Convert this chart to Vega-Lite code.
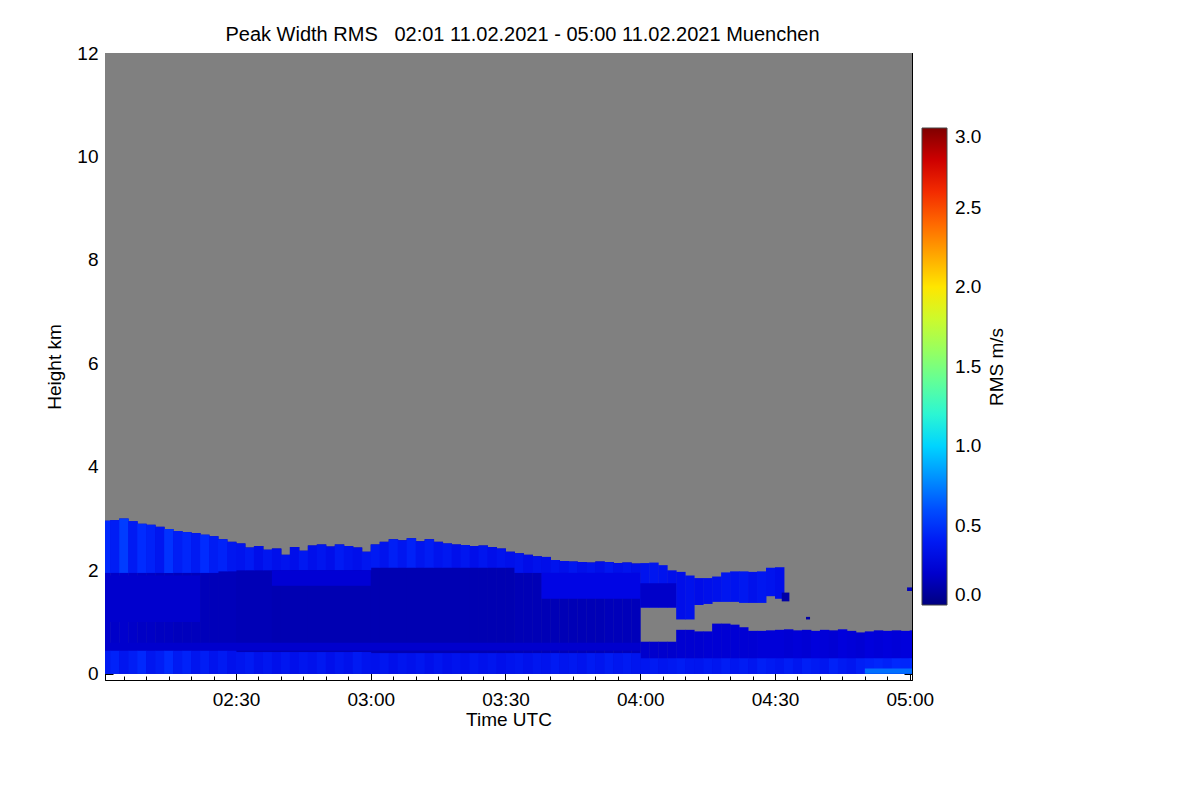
{
  "$schema": "https://vega.github.io/schema/vega-lite/v6.json",
  "description": "Peak Width RMS time-height section, Muenchen 11.02.2021",
  "width": 807,
  "height": 627,
  "autosize": {"type": "none"},
  "padding": {"left": 105, "top": 53, "right": 288, "bottom": 120},
  "background": "white",
  "title": {
    "text": "Peak Width RMS\u00a0\u00a0\u00a002:01 11.02.2021 - 05:00 11.02.2021 Muenchen",
    "fontSize": 20,
    "fontWeight": "normal",
    "font": "Liberation Sans",
    "color": "black",
    "anchor": "middle",
    "dx": 14,
    "dy": 11,
    "offset": 10
  },
  "config": {
    "font": "Liberation Sans",
    "view": {"stroke": "black", "strokeWidth": 1},
    "axis": {
      "grid": false,
      "domainColor": "black",
      "tickColor": "black",
      "labelColor": "black",
      "titleColor": "black",
      "labelFontSize": 19,
      "titleFontSize": 19,
      "titleFontWeight": "normal",
      "labelFlush": false,
      "labelOverlap": false
    },
    "legend": {
      "labelFontSize": 19,
      "titleFontSize": 19,
      "titleFontWeight": "normal",
      "labelColor": "black",
      "titleColor": "black"
    }
  },
  "datasets": {
    "frame": [{"t0": 0.84, "t1": 180.5, "h0": 0, "h1": 12}],
    "cols": [
      {"t0": 0, "t1": 2.1, "top": 2.96, "cap": 1.95, "lo": 2.96, "bt": 0.45, "vt": 0.48, "vm": 0.2, "vb": 0.4},
      {"t0": 2, "t1": 4.1, "top": 2.97, "cap": 1.95, "lo": 2.97, "bt": 0.45, "vt": 0.42, "vm": 0.19, "vb": 0.45},
      {"t0": 4, "t1": 6.1, "top": 3.0, "cap": 1.95, "lo": 3.0, "bt": 0.45, "vt": 0.55, "vm": 0.2, "vb": 0.37},
      {"t0": 6, "t1": 8.1, "top": 2.95, "cap": 1.95, "lo": 2.95, "bt": 0.45, "vt": 0.4, "vm": 0.19, "vb": 0.42},
      {"t0": 8, "t1": 10.1, "top": 2.9, "cap": 1.95, "lo": 2.9, "bt": 0.45, "vt": 0.5, "vm": 0.18, "vb": 0.48},
      {"t0": 10, "t1": 12.1, "top": 2.88, "cap": 1.95, "lo": 2.88, "bt": 0.45, "vt": 0.44, "vm": 0.18, "vb": 0.38},
      {"t0": 12, "t1": 14.1, "top": 2.84, "cap": 1.95, "lo": 2.84, "bt": 0.45, "vt": 0.38, "vm": 0.17, "vb": 0.42},
      {"t0": 14, "t1": 16.1, "top": 2.8, "cap": 1.95, "lo": 2.8, "bt": 0.45, "vt": 0.52, "vm": 0.17, "vb": 0.5},
      {"t0": 16, "t1": 18.1, "top": 2.76, "cap": 1.95, "lo": 2.76, "bt": 0.45, "vt": 0.42, "vm": 0.16, "vb": 0.4},
      {"t0": 18, "t1": 20.1, "top": 2.74, "cap": 1.95, "lo": 2.74, "bt": 0.45, "vt": 0.47, "vm": 0.16, "vb": 0.45},
      {"t0": 20, "t1": 22.1, "top": 2.72, "cap": 1.95, "lo": 2.72, "bt": 0.45, "vt": 0.4, "vm": 0.16, "vb": 0.37},
      {"t0": 22, "t1": 24.1, "top": 2.69, "cap": 1.95, "lo": 2.69, "bt": 0.45, "vt": 0.5, "vm": 0.15, "vb": 0.42},
      {"t0": 24, "t1": 26.1, "top": 2.66, "cap": 1.95, "lo": 2.66, "bt": 0.45, "vt": 0.41, "vm": 0.15, "vb": 0.36},
      {"t0": 26, "t1": 28.1, "top": 2.6, "cap": 1.98, "lo": 2.6, "bt": 0.45, "vt": 0.45, "vm": 0.15, "vb": 0.4},
      {"t0": 28, "t1": 30.1, "top": 2.55, "cap": 1.98, "lo": 2.55, "bt": 0.45, "vt": 0.38, "vm": 0.15, "vb": 0.35},
      {"t0": 30, "t1": 32.1, "top": 2.52, "cap": 2.0, "lo": 2.52, "bt": 0.42, "vt": 0.36, "vm": 0.14, "vb": 0.37},
      {"t0": 32, "t1": 34.1, "top": 2.44, "cap": 2.0, "lo": 2.44, "bt": 0.42, "vt": 0.4, "vm": 0.14, "vb": 0.4},
      {"t0": 34, "t1": 36.1, "top": 2.47, "cap": 2.0, "lo": 2.47, "bt": 0.42, "vt": 0.33, "vm": 0.14, "vb": 0.35},
      {"t0": 36, "t1": 38.1, "top": 2.4, "cap": 2.0, "lo": 2.4, "bt": 0.42, "vt": 0.38, "vm": 0.14, "vb": 0.38},
      {"t0": 38, "t1": 40.1, "top": 2.42, "cap": 2.0, "lo": 2.42, "bt": 0.42, "vt": 0.34, "vm": 0.13, "vb": 0.34},
      {"t0": 40, "t1": 42.1, "top": 2.3, "cap": 2.0, "lo": 2.3, "bt": 0.42, "vt": 0.36, "vm": 0.13, "vb": 0.38},
      {"t0": 42, "t1": 44.1, "top": 2.45, "cap": 2.0, "lo": 2.45, "bt": 0.42, "vt": 0.33, "vm": 0.13, "vb": 0.34},
      {"t0": 44, "t1": 46.1, "top": 2.38, "cap": 2.0, "lo": 2.38, "bt": 0.42, "vt": 0.39, "vm": 0.13, "vb": 0.37},
      {"t0": 46, "t1": 48.1, "top": 2.48, "cap": 2.0, "lo": 2.48, "bt": 0.42, "vt": 0.34, "vm": 0.13, "vb": 0.35},
      {"t0": 48, "t1": 50.1, "top": 2.5, "cap": 2.0, "lo": 2.5, "bt": 0.42, "vt": 0.37, "vm": 0.13, "vb": 0.39},
      {"t0": 50, "t1": 52.1, "top": 2.46, "cap": 2.0, "lo": 2.46, "bt": 0.42, "vt": 0.33, "vm": 0.13, "vb": 0.34},
      {"t0": 52, "t1": 54.1, "top": 2.5, "cap": 2.0, "lo": 2.5, "bt": 0.42, "vt": 0.4, "vm": 0.13, "vb": 0.38},
      {"t0": 54, "t1": 56.1, "top": 2.47, "cap": 2.0, "lo": 2.47, "bt": 0.42, "vt": 0.36, "vm": 0.13, "vb": 0.35},
      {"t0": 56, "t1": 58.1, "top": 2.44, "cap": 2.0, "lo": 2.44, "bt": 0.42, "vt": 0.34, "vm": 0.13, "vb": 0.4},
      {"t0": 58, "t1": 60.1, "top": 2.36, "cap": 2.0, "lo": 2.36, "bt": 0.42, "vt": 0.38, "vm": 0.13, "vb": 0.36},
      {"t0": 60, "t1": 62.1, "top": 2.5, "cap": 2.05, "lo": 2.5, "bt": 0.4, "vt": 0.4, "vm": 0.13, "vb": 0.35},
      {"t0": 62, "t1": 64.1, "top": 2.55, "cap": 2.05, "lo": 2.55, "bt": 0.4, "vt": 0.36, "vm": 0.13, "vb": 0.38},
      {"t0": 64, "t1": 66.1, "top": 2.6, "cap": 2.05, "lo": 2.6, "bt": 0.4, "vt": 0.43, "vm": 0.13, "vb": 0.34},
      {"t0": 66, "t1": 68.1, "top": 2.58, "cap": 2.05, "lo": 2.58, "bt": 0.4, "vt": 0.38, "vm": 0.13, "vb": 0.37},
      {"t0": 68, "t1": 70.1, "top": 2.62, "cap": 2.05, "lo": 2.62, "bt": 0.4, "vt": 0.44, "vm": 0.13, "vb": 0.35},
      {"t0": 70, "t1": 72.1, "top": 2.56, "cap": 2.05, "lo": 2.56, "bt": 0.4, "vt": 0.37, "vm": 0.13, "vb": 0.38},
      {"t0": 72, "t1": 74.1, "top": 2.6, "cap": 2.05, "lo": 2.6, "bt": 0.4, "vt": 0.41, "vm": 0.13, "vb": 0.34},
      {"t0": 74, "t1": 76.1, "top": 2.55, "cap": 2.05, "lo": 2.55, "bt": 0.4, "vt": 0.36, "vm": 0.13, "vb": 0.37},
      {"t0": 76, "t1": 78.1, "top": 2.52, "cap": 2.05, "lo": 2.52, "bt": 0.4, "vt": 0.39, "vm": 0.13, "vb": 0.34},
      {"t0": 78, "t1": 80.1, "top": 2.5, "cap": 2.05, "lo": 2.5, "bt": 0.4, "vt": 0.34, "vm": 0.13, "vb": 0.36},
      {"t0": 80, "t1": 82.1, "top": 2.49, "cap": 2.05, "lo": 2.49, "bt": 0.4, "vt": 0.38, "vm": 0.13, "vb": 0.34},
      {"t0": 82, "t1": 84.1, "top": 2.47, "cap": 2.05, "lo": 2.47, "bt": 0.4, "vt": 0.33, "vm": 0.13, "vb": 0.38},
      {"t0": 84, "t1": 86.1, "top": 2.48, "cap": 2.05, "lo": 2.48, "bt": 0.4, "vt": 0.37, "vm": 0.13, "vb": 0.35},
      {"t0": 86, "t1": 88.1, "top": 2.45, "cap": 2.05, "lo": 2.45, "bt": 0.4, "vt": 0.33, "vm": 0.13, "vb": 0.37},
      {"t0": 88, "t1": 90.1, "top": 2.42, "cap": 2.05, "lo": 2.42, "bt": 0.4, "vt": 0.36, "vm": 0.13, "vb": 0.34},
      {"t0": 90, "t1": 92.1, "top": 2.36, "cap": 2.05, "lo": 2.36, "bt": 0.4, "vt": 0.34, "vm": 0.13, "vb": 0.36},
      {"t0": 92, "t1": 94.1, "top": 2.33, "cap": 1.95, "lo": 2.33, "bt": 0.4, "vt": 0.36, "vm": 0.14, "vb": 0.38},
      {"t0": 94, "t1": 96.1, "top": 2.3, "cap": 1.95, "lo": 2.3, "bt": 0.4, "vt": 0.32, "vm": 0.14, "vb": 0.35},
      {"t0": 96, "t1": 98.1, "top": 2.27, "cap": 1.95, "lo": 2.27, "bt": 0.4, "vt": 0.35, "vm": 0.14, "vb": 0.38},
      {"t0": 98, "t1": 100.1, "top": 2.26, "cap": 1.95, "lo": 2.26, "bt": 0.4, "vt": 0.33, "vm": 0.14, "vb": 0.36},
      {"t0": 100, "t1": 102.1, "top": 2.2, "cap": 1.95, "lo": 2.2, "bt": 0.4, "vt": 0.36, "vm": 0.14, "vb": 0.4},
      {"t0": 102, "t1": 104.1, "top": 2.18, "cap": 1.95, "lo": 2.18, "bt": 0.4, "vt": 0.34, "vm": 0.14, "vb": 0.37},
      {"t0": 104, "t1": 106.1, "top": 2.17, "cap": 1.95, "lo": 2.17, "bt": 0.4, "vt": 0.38, "vm": 0.14, "vb": 0.39},
      {"t0": 106, "t1": 108.1, "top": 2.16, "cap": 1.95, "lo": 2.16, "bt": 0.4, "vt": 0.34, "vm": 0.14, "vb": 0.36},
      {"t0": 108, "t1": 110.1, "top": 2.15, "cap": 1.95, "lo": 2.15, "bt": 0.4, "vt": 0.36, "vm": 0.14, "vb": 0.4},
      {"t0": 110, "t1": 112.1, "top": 2.17, "cap": 1.95, "lo": 2.17, "bt": 0.4, "vt": 0.33, "vm": 0.14, "vb": 0.37},
      {"t0": 112, "t1": 114.1, "top": 2.16, "cap": 1.95, "lo": 2.16, "bt": 0.4, "vt": 0.38, "vm": 0.15, "vb": 0.41},
      {"t0": 114, "t1": 116.1, "top": 2.14, "cap": 1.95, "lo": 2.14, "bt": 0.4, "vt": 0.34, "vm": 0.15, "vb": 0.38},
      {"t0": 116, "t1": 118.1, "top": 2.15, "cap": 1.95, "lo": 2.15, "bt": 0.4, "vt": 0.36, "vm": 0.15, "vb": 0.4},
      {"t0": 118, "t1": 120.1, "top": 2.13, "cap": 1.95, "lo": 2.13, "bt": 0.4, "vt": 0.33, "vm": 0.15, "vb": 0.37},
      {"t0": 120, "t1": 122.1, "top": 2.14, "cap": 1.28, "lo": 0.62, "bt": 0.3, "vt": 0.36, "vm": 0.2, "vb": 0.38},
      {"t0": 122, "t1": 124.1, "top": 2.15, "cap": 1.28, "lo": 0.62, "bt": 0.3, "vt": 0.38, "vm": 0.2, "vb": 0.4},
      {"t0": 124, "t1": 126.1, "top": 2.1, "cap": 1.28, "lo": 0.62, "bt": 0.3, "vt": 0.36, "vm": 0.2, "vb": 0.37},
      {"t0": 126, "t1": 128.1, "top": 2.0, "cap": 1.28, "lo": 0.62, "bt": 0.3, "vt": 0.34, "vm": 0.2, "vb": 0.39},
      {"t0": 128, "t1": 130.1, "top": 1.97, "cap": 1.05, "lo": 0.85, "bt": 0.3, "vt": 0.33, "vm": 0.21, "vb": 0.41},
      {"t0": 130, "t1": 132.1, "top": 1.9, "cap": 1.05, "lo": 0.85, "bt": 0.3, "vt": 0.35, "vm": 0.21, "vb": 0.38},
      {"t0": 132, "t1": 134.1, "top": 1.85, "cap": 1.33, "lo": 0.82, "bt": 0.3, "vt": 0.32, "vm": 0.21, "vb": 0.37},
      {"t0": 134, "t1": 136.1, "top": 1.85, "cap": 1.35, "lo": 0.82, "bt": 0.3, "vt": 0.34, "vm": 0.22, "vb": 0.4},
      {"t0": 136, "t1": 138.1, "top": 1.88, "cap": 1.39, "lo": 0.97, "bt": 0.3, "vt": 0.35, "vm": 0.22, "vb": 0.38},
      {"t0": 138, "t1": 140.1, "top": 1.96, "cap": 1.39, "lo": 0.97, "bt": 0.3, "vt": 0.38, "vm": 0.22, "vb": 0.42},
      {"t0": 140, "t1": 142.1, "top": 1.98, "cap": 1.39, "lo": 0.95, "bt": 0.3, "vt": 0.36, "vm": 0.22, "vb": 0.38},
      {"t0": 142, "t1": 144.1, "top": 1.98, "cap": 1.37, "lo": 0.9, "bt": 0.3, "vt": 0.39, "vm": 0.22, "vb": 0.41},
      {"t0": 144, "t1": 146.1, "top": 1.97, "cap": 1.37, "lo": 0.83, "bt": 0.3, "vt": 0.35, "vm": 0.22, "vb": 0.38},
      {"t0": 146, "t1": 148.1, "top": 1.98, "cap": 1.37, "lo": 0.83, "bt": 0.3, "vt": 0.38, "vm": 0.23, "vb": 0.43},
      {"t0": 148, "t1": 150.1, "top": 2.05, "cap": 1.5, "lo": 0.84, "bt": 0.3, "vt": 0.36, "vm": 0.23, "vb": 0.4},
      {"t0": 150, "t1": 152.1, "top": 2.06, "cap": 1.45, "lo": 0.85, "bt": 0.3, "vt": 0.33, "vm": 0.23, "vb": 0.38},
      {"t0": 152, "t1": 154.1, "top": null, "cap": null, "lo": 0.86, "bt": 0.3, "vt": null, "vm": 0.22, "vb": 0.42},
      {"t0": 154, "t1": 156.1, "top": null, "cap": null, "lo": 0.84, "bt": 0.3, "vt": null, "vm": 0.23, "vb": 0.38},
      {"t0": 156, "t1": 158.1, "top": null, "cap": null, "lo": 0.85, "bt": 0.3, "vt": null, "vm": 0.22, "vb": 0.43},
      {"t0": 158, "t1": 160.1, "top": null, "cap": null, "lo": 0.83, "bt": 0.3, "vt": null, "vm": 0.24, "vb": 0.4},
      {"t0": 160, "t1": 162.1, "top": null, "cap": null, "lo": 0.85, "bt": 0.3, "vt": null, "vm": 0.23, "vb": 0.38},
      {"t0": 162, "t1": 164.1, "top": null, "cap": null, "lo": 0.84, "bt": 0.3, "vt": null, "vm": 0.22, "vb": 0.44},
      {"t0": 164, "t1": 166.1, "top": null, "cap": null, "lo": 0.86, "bt": 0.3, "vt": null, "vm": 0.24, "vb": 0.4},
      {"t0": 166, "t1": 168.1, "top": null, "cap": null, "lo": 0.83, "bt": 0.3, "vt": null, "vm": 0.23, "vb": 0.38},
      {"t0": 168, "t1": 170.1, "top": null, "cap": null, "lo": 0.8, "bt": 0.3, "vt": null, "vm": 0.22, "vb": 0.43},
      {"t0": 170, "t1": 172.1, "top": null, "cap": null, "lo": 0.82, "bt": 0.3, "vt": null, "vm": 0.24, "vb": 0.45},
      {"t0": 172, "t1": 174.1, "top": null, "cap": null, "lo": 0.84, "bt": 0.3, "vt": null, "vm": 0.23, "vb": 0.47},
      {"t0": 174, "t1": 176.1, "top": null, "cap": null, "lo": 0.83, "bt": 0.3, "vt": null, "vm": 0.24, "vb": 0.44},
      {"t0": 176, "t1": 178.1, "top": null, "cap": null, "lo": 0.84, "bt": 0.3, "vt": null, "vm": 0.23, "vb": 0.48},
      {"t0": 178, "t1": 180.1, "top": null, "cap": null, "lo": 0.83, "bt": 0.3, "vt": null, "vm": 0.24, "vb": 0.47},
      {"t0": 180, "t1": 182, "top": null, "cap": null, "lo": 0.84, "bt": 0.3, "vt": null, "vm": 0.24, "vb": 0.5}
    ],
    "patches": [
      {"t0": 0, "t1": 22, "h0": 1.0, "h1": 1.9, "v": 0.2},
      {"t0": 38, "t1": 60, "h0": 1.7, "h1": 2.0, "v": 0.22},
      {"t0": 98, "t1": 120, "h0": 1.45, "h1": 1.95, "v": 0.28},
      {"t0": 120, "t1": 128, "h0": 1.28, "h1": 1.75, "v": 0.19},
      {"t0": 0, "t1": 120, "h0": 0.45, "h1": 0.6, "v": 0.2},
      {"t0": 170, "t1": 182, "h0": 0, "h1": 0.1, "v": 0.7},
      {"t0": 151.5, "t1": 153.2, "h0": 1.4, "h1": 1.57, "v": 0.1},
      {"t0": 156.9, "t1": 157.8, "h0": 1.05, "h1": 1.1, "v": 0.1},
      {"t0": 179.4, "t1": 182, "h0": 1.6, "h1": 1.67, "v": 0.15}
    ]
  },
  "layer": [
    {
      "data": {"name": "frame"},
      "mark": {"type": "rect", "color": "#808080", "clip": true},
      "encoding": {
        "x": {
          "field": "t0", "type": "quantitative",
          "scale": {"domain": [0.84, 180.5], "nice": false, "zero": false},
          "axis": {
            "orient": "top", "title": null, "labels": false,
            "values": [5,10,15,20,25,30,35,40,45,50,55,60,65,70,75,80,85,90,95,100,105,110,115,120,125,130,135,140,145,150,155,160,165,170,175,180],
            "tickSize": {"condition": {"test": "datum.value % 30 == 0", "value": -8}, "value": -4}
          }
        },
        "x2": {"field": "t1"},
        "y": {
          "field": "h0", "type": "quantitative",
          "scale": {"domain": [-0.12, 12], "nice": false, "zero": false},
          "axis": {
            "orient": "right", "title": null, "labels": false,
            "values": [0,0.5,1,1.5,2,2.5,3,3.5,4,4.5,5,5.5,6,6.5,7,7.5,8,8.5,9,9.5,10,10.5,11,11.5,12],
            "tickSize": {"condition": {"test": "datum.value % 2 == 0", "value": -8}, "value": -4}
          }
        },
        "y2": {"field": "h1"}
      }
    },
    {
      "data": {"name": "cols"},
      "mark": {"type": "rect", "clip": true},
      "encoding": {
        "x": {
          "field": "t0", "type": "quantitative",
          "scale": {"domain": [0.84, 180.5], "nice": false, "zero": false},
          "axis": {
            "orient": "bottom", "title": "Time UTC",
            "values": [5,10,15,20,25,30,35,40,45,50,55,60,65,70,75,80,85,90,95,100,105,110,115,120,125,130,135,140,145,150,155,160,165,170,175,180],
            "labelExpr": "datum.value % 30 == 0 ? ('0' + (2 + floor(datum.value / 60)) + ':' + (datum.value % 60 == 0 ? '00' : '30')) : ''",
            "tickSize": {"condition": {"test": "datum.value % 30 == 0", "value": -8}, "value": -4},
            "labelPadding": 18,
            "titlePadding": -3
          }
        },
        "x2": {"field": "t1"},
        "y": {
          "field": "lo", "type": "quantitative",
          "scale": {"domain": [-0.12, 12], "nice": false, "zero": false},
          "axis": {
            "orient": "left", "title": "Height km",
            "values": [0,0.5,1,1.5,2,2.5,3,3.5,4,4.5,5,5.5,6,6.5,7,7.5,8,8.5,9,9.5,10,10.5,11,11.5,12],
            "labelExpr": "datum.value % 2 == 0 ? ('' + datum.value) : ''",
            "tickSize": {"condition": {"test": "datum.value % 2 == 0", "value": -8}, "value": -4},
            "labelPadding": 15,
            "titlePadding": 12
          }
        },
        "y2": {"datum": 0},
        "color": {
          "field": "vm", "type": "quantitative",
          "scale": {
            "domain": [0, 3],
            "range": ["#000080", "#0000e0", "#002bff", "#0080ff", "#00d4ff", "#37ffc8", "#7bff7b", "#c0ff37", "#ffe600", "#ff9700", "#ff4800", "#e00000", "#800000"],
            "interpolate": "rgb"
          },
          "legend": {
            "orient": "none",
            "legendX": 817,
            "legendY": 75,
            "direction": "vertical",
            "gradientLength": 477,
            "gradientThickness": 25,
            "gradientStrokeColor": "#444444",
            "gradientStrokeWidth": 1,
            "values": [0, 0.5, 1, 1.5, 2, 2.5, 3],
            "format": ".1f",
            "labelOffset": 8,
            "title": "RMS m/s",
            "titleOrient": "right",
            "titleAnchor": "middle",
            "encode": {"title": {"update": {"angle": {"value": 270}, "baseline": {"value": "top"}, "dy": {"value": 2}}}}
          }
        }
      }
    },
    {
      "data": {"name": "cols"},
      "mark": {"type": "rect", "clip": true},
      "encoding": {
        "x": {"field": "t0", "type": "quantitative", "scale": {"domain": [0.84, 180.5], "nice": false, "zero": false}, "axis": null},
        "x2": {"field": "t1"},
        "y": {"field": "cap", "type": "quantitative", "scale": {"domain": [-0.12, 12], "nice": false, "zero": false}, "axis": null},
        "y2": {"field": "top"},
        "color": {"field": "vt", "type": "quantitative", "legend": null}
      }
    },
    {
      "data": {"name": "cols"},
      "mark": {"type": "rect", "clip": true},
      "encoding": {
        "x": {"field": "t0", "type": "quantitative", "scale": {"domain": [0.84, 180.5], "nice": false, "zero": false}, "axis": null},
        "x2": {"field": "t1"},
        "y": {"field": "bt", "type": "quantitative", "scale": {"domain": [-0.12, 12], "nice": false, "zero": false}, "axis": null},
        "y2": {"datum": 0},
        "color": {"field": "vb", "type": "quantitative", "legend": null}
      }
    },
    {
      "data": {"name": "patches"},
      "mark": {"type": "rect", "clip": true},
      "encoding": {
        "x": {"field": "t0", "type": "quantitative", "scale": {"domain": [0.84, 180.5], "nice": false, "zero": false}, "axis": null},
        "x2": {"field": "t1"},
        "y": {"field": "h0", "type": "quantitative", "scale": {"domain": [-0.12, 12], "nice": false, "zero": false}, "axis": null},
        "y2": {"field": "h1"},
        "color": {"field": "v", "type": "quantitative", "legend": null}
      }
    }
  ],
  "resolve": {"axis": {"x": "independent", "y": "independent"}}
}
